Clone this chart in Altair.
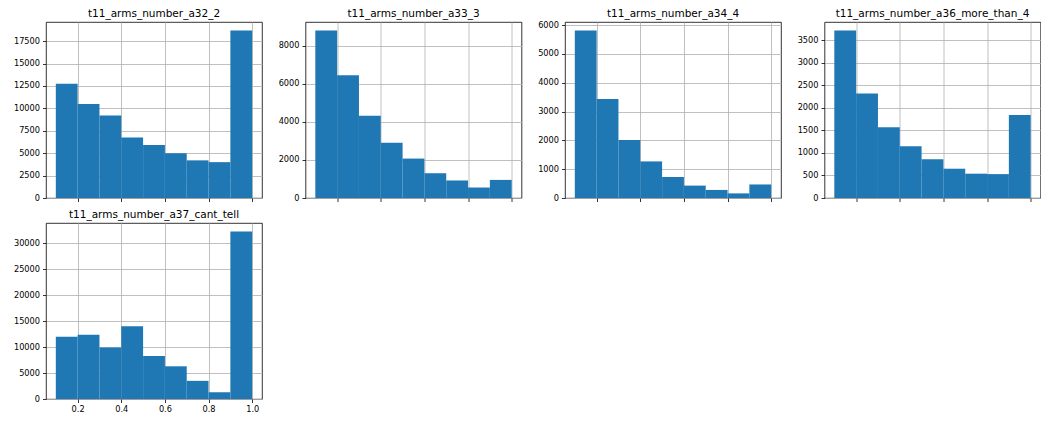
import altair as alt
import pandas as pd

# histogram bin edges (shared x axis)
bin_starts = [0.1, 0.2, 0.3, 0.4, 0.5, 0.6, 0.7, 0.8, 0.9]
bin_ends = [0.2, 0.3, 0.4, 0.5, 0.6, 0.7, 0.8, 0.9, 1.0]
x_ticks = [0.2, 0.4, 0.6, 0.8, 1.0]

titles = [
    "t11_arms_number_a32_2",
    "t11_arms_number_a33_3",
    "t11_arms_number_a34_4",
    "t11_arms_number_a36_more_than_4",
    "t11_arms_number_a37_cant_tell",
]

a32_2 = [12750, 10500, 9200, 6750, 5900, 5000, 4200, 4000, 18700]
a33_3 = [8800, 6450, 4320, 2900, 2070, 1300, 920, 550, 950]
a34_4 = [5820, 3440, 2010, 1270, 730, 430, 280, 160, 470]
a36_more_than_4 = [3720, 2320, 1570, 1150, 860, 650, 540, 530, 1840]
a37_cant_tell = [12000, 12400, 9900, 14000, 8300, 6300, 3500, 1300, 32300]

y_ticks_a32 = [0, 2500, 5000, 7500, 10000, 12500, 15000, 17500]
y_ticks_a33 = [0, 2000, 4000, 6000, 8000]
y_ticks_a34 = [0, 1000, 2000, 3000, 4000, 5000, 6000]
y_ticks_a36 = [0, 500, 1000, 1500, 2000, 2500, 3000, 3500]
y_ticks_a37 = [0, 5000, 10000, 15000, 20000, 25000, 30000]

series = [a32_2, a33_3, a34_4, a36_more_than_4, a37_cant_tell]
yticks = [y_ticks_a32, y_ticks_a33, y_ticks_a34, y_ticks_a36, y_ticks_a37]
show_x = [False, False, False, False, True]

W, H = 216, 176


def panel(title, counts, ticks, labels_x):
    df = pd.DataFrame({"x0": bin_starts, "x1": bin_ends, "count": counts,
                       "base": [0] * len(counts)})
    ymax = max(counts) * 1.05
    bars = (
        alt.Chart(df)
        .mark_rect(color="#1f77b4")
        .encode(
            x=alt.X("x0:Q",
                    scale=alt.Scale(domain=[0.055, 1.045], nice=False, zero=False),
                    axis=alt.Axis(values=x_ticks, format=".1f", labels=labels_x, title=None)),
            x2="x1:Q",
            y=alt.Y("count:Q",
                    scale=alt.Scale(domain=[0, ymax], nice=False),
                    axis=alt.Axis(values=ticks, format="d", title=None)),
            y2="base:Q",
        )
    )
    head = (
        alt.Chart(pd.DataFrame({"t": [title]}))
        .mark_text(font="DejaVu Sans", fontSize=10.5, color="black",
                   align="center", baseline="alphabetic")
        .encode(x=alt.value(W / 2), y=alt.value(-5), text="t:N")
    )
    return alt.layer(bars, head).properties(width=W, height=H)


charts = [panel(t, s, yt, sx) for t, s, yt, sx in zip(titles, series, yticks, show_x)]

chart = (
    alt.concat(*charts, columns=4, spacing=alt.RowColnumber(row=25, column=43.5), bounds="flush")
    .properties(padding={"left": 5, "top": 0, "right": 0, "bottom": 0})
    .configure_view(stroke="black", strokeWidth=0.8)
    .configure_axis(
        zindex=1,
        domain=False,
        grid=True,
        gridColor="#b0b0b0",
        gridWidth=0.8,
        tickColor="black",
        tickSize=3.5,
        tickWidth=0.8,
        labelFont="DejaVu Sans",
        labelFontSize=8.2,
        labelColor="black",
        labelPadding=3,
    )
)

chart.save("out.html", embed_options={"renderer": "svg", "actions": False})
